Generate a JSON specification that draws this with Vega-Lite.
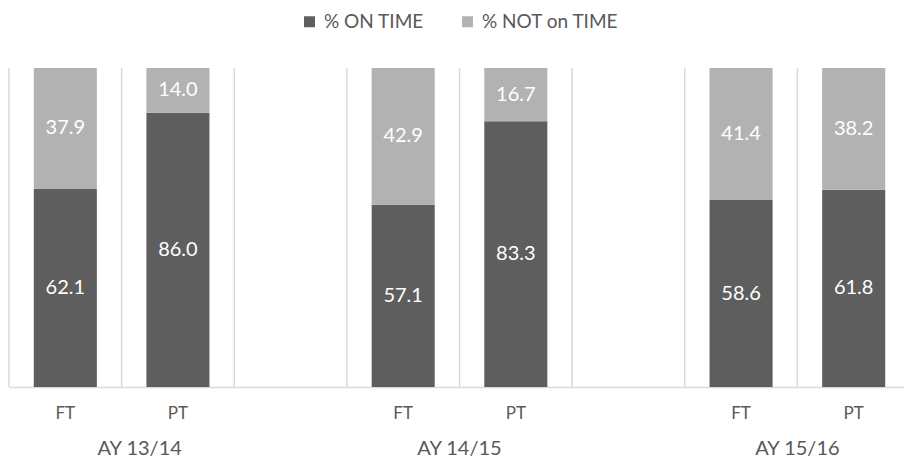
{
  "$schema": "https://vega.github.io/schema/vega-lite/v6.json",
  "width": 895,
  "height": 319,
  "autosize": {"type": "none"},
  "padding": {"left": 9, "top": 68, "right": 0, "bottom": 78},
  "background": "white",
  "config": {"view": {"stroke": null}, "font": "Lato"},
  "datasets": {
    "bars": [
      {"slot": "FT|13", "status": "% ON TIME", "value": 62.1},
      {"slot": "FT|13", "status": "% NOT on TIME", "value": 37.9},
      {"slot": "PT|13", "status": "% ON TIME", "value": 86.0},
      {"slot": "PT|13", "status": "% NOT on TIME", "value": 14.0},
      {"slot": "FT|14", "status": "% ON TIME", "value": 57.1},
      {"slot": "FT|14", "status": "% NOT on TIME", "value": 42.9},
      {"slot": "PT|14", "status": "% ON TIME", "value": 83.3},
      {"slot": "PT|14", "status": "% NOT on TIME", "value": 16.7},
      {"slot": "FT|15", "status": "% ON TIME", "value": 58.6},
      {"slot": "FT|15", "status": "% NOT on TIME", "value": 41.4},
      {"slot": "PT|15", "status": "% ON TIME", "value": 61.8},
      {"slot": "PT|15", "status": "% NOT on TIME", "value": 38.2}
    ],
    "slots": [
      {"slot": "FT|13"}, {"slot": "PT|13"}, {"slot": "|13"},
      {"slot": "FT|14"}, {"slot": "PT|14"}, {"slot": "|14"},
      {"slot": "FT|15"}, {"slot": "PT|15"}
    ],
    "groups": [
      {"slot": "PT|13", "label": "AY 13/14", "first": true},
      {"slot": "FT|14", "label": "AY 14/15", "first": false},
      {"slot": "FT|15", "label": "AY 15/16", "first": false}
    ]
  },
  "resolve": {"scale": {"y": "independent"}},
  "layer": [
    {
      "data": {"name": "slots"},
      "mark": {"type": "rule", "color": "#d9d9d9", "strokeWidth": 1.5},
      "encoding": {
        "x": {"field": "slot", "type": "nominal", "bandPosition": 0,
              "scale": {"domain": ["FT|13","PT|13","|13","FT|14","PT|14","|14","FT|15","PT|15"], "paddingInner": 0, "paddingOuter": 0, "range": [0, 901]},
              "axis": {"title": null, "domain": true, "domainColor": "#d9d9d9", "domainWidth": 1.5, "ticks": false, "tickSize": 0, "grid": false, "bandPosition": 0.5,
                       "labelExpr": "split(datum.value, '|')[0]", "labelAngle": 0, "labelFontSize": 17, "labelColor": "#595959",
                       "labelBaseline": "middle", "labelPadding": 26, "labelFont": "Lato"}},
        "y": {"datum": 0, "type": "quantitative", "scale": {"domain": [0, 100]}, "axis": null},
        "y2": {"datum": 100}
      }
    },
    {
      "data": {"name": "bars"},
      "mark": {"type": "bar", "width": {"band": 0.56}},
      "encoding": {
        "x": {"field": "slot", "type": "nominal",
              "scale": {"domain": ["FT|13","PT|13","|13","FT|14","PT|14","|14","FT|15","PT|15"], "paddingInner": 0, "paddingOuter": 0, "range": [0, 901]}},
        "y": {"field": "value", "type": "quantitative", "stack": "zero", "scale": {"domain": [0, 100]}, "axis": null},
        "color": {"field": "status", "type": "nominal", "sort": ["% ON TIME", "% NOT on TIME"],
                  "scale": {"domain": ["% ON TIME", "% NOT on TIME"], "range": ["#5e5e5e", "#b2b2b2"]},
                  "legend": {"title": null, "orient": "none", "legendX": 291, "legendY": -56, "direction": "horizontal",
                             "symbolType": "square", "symbolSize": 121, "symbolStrokeWidth": 0,
                             "labelFontSize": 19, "labelColor": "#595959", "labelFont": "Lato", "columnPadding": 34, "labelOffset": 5}}
      }
    },
    {
      "data": {"name": "bars"},
      "transform": [{"filter": "datum.status == '% ON TIME'"}],
      "mark": {"type": "text", "color": "white", "fontSize": 20, "baseline": "middle", "font": "Lato"},
      "encoding": {
        "x": {"field": "slot", "type": "nominal",
              "scale": {"domain": ["FT|13","PT|13","|13","FT|14","PT|14","|14","FT|15","PT|15"], "paddingInner": 0, "paddingOuter": 0, "range": [0, 901]}},
        "y": {"field": "value", "type": "quantitative", "scale": {"domain": [0, 200]}, "axis": null},
        "text": {"field": "value", "type": "quantitative", "format": ".1f"}
      }
    },
    {
      "data": {"name": "bars"},
      "transform": [{"filter": "datum.status == '% NOT on TIME'"}],
      "mark": {"type": "text", "color": "white", "fontSize": 20, "baseline": "middle", "font": "Lato"},
      "encoding": {
        "x": {"field": "slot", "type": "nominal",
              "scale": {"domain": ["FT|13","PT|13","|13","FT|14","PT|14","|14","FT|15","PT|15"], "paddingInner": 0, "paddingOuter": 0, "range": [0, 901]}},
        "y": {"field": "value", "type": "quantitative", "scale": {"domain": [0, 200], "reverse": true}, "axis": null},
        "text": {"field": "value", "type": "quantitative", "format": ".1f"}
      }
    },
    {
      "data": {"name": "groups"},
      "transform": [{"filter": "datum.first"}],
      "mark": {"type": "text", "color": "#595959", "fontSize": 20, "baseline": "middle", "dy": 62, "font": "Lato"},
      "encoding": {
        "x": {"field": "slot", "type": "nominal", "bandPosition": 0.16,
              "scale": {"domain": ["FT|13","PT|13","|13","FT|14","PT|14","|14","FT|15","PT|15"], "paddingInner": 0, "paddingOuter": 0, "range": [0, 901]}},
        "y": {"datum": 0, "type": "quantitative", "scale": {"domain": [0, 100]}, "axis": null},
        "text": {"field": "label", "type": "nominal"}
      }
    },
    {
      "data": {"name": "groups"},
      "transform": [{"filter": "!datum.first"}],
      "mark": {"type": "text", "color": "#595959", "fontSize": 20, "baseline": "middle", "dy": 62, "font": "Lato"},
      "encoding": {
        "x": {"field": "slot", "type": "nominal", "bandPosition": 1,
              "scale": {"domain": ["FT|13","PT|13","|13","FT|14","PT|14","|14","FT|15","PT|15"], "paddingInner": 0, "paddingOuter": 0, "range": [0, 901]}},
        "y": {"datum": 0, "type": "quantitative", "scale": {"domain": [0, 100]}, "axis": null},
        "text": {"field": "label", "type": "nominal"}
      }
    }
  ]
}
